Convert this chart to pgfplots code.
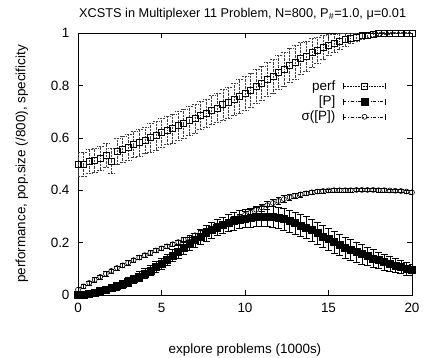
\documentclass[border=0pt]{standalone}
\usepackage{fontspec}
\setmainfont{Liberation Sans}
\usepackage{pgfplots}
\usepackage{pgfplotstable}
\pgfplotsset{compat=1.18}

\pgfplotstableread{
x p pe b be s se
0 0.500 0.045 0.000 0.004 0.020 0.008
0.33 0.498 0.045 0.002 0.006 0.033 0.008
0.67 0.510 0.045 0.006 0.008 0.046 0.008
1 0.515 0.045 0.010 0.009 0.058 0.008
1.33 0.522 0.045 0.015 0.011 0.069 0.008
1.67 0.534 0.045 0.021 0.012 0.081 0.008
2 0.512 0.048 0.027 0.013 0.092 0.008
2.33 0.548 0.05 0.034 0.014 0.103 0.008
2.67 0.556 0.05 0.042 0.015 0.113 0.008
3 0.565 0.05 0.050 0.016 0.123 0.008
3.33 0.574 0.05 0.060 0.017 0.133 0.008
3.67 0.581 0.05 0.071 0.018 0.143 0.008
4 0.590 0.05 0.082 0.019 0.152 0.008
4.33 0.601 0.055 0.094 0.020 0.161 0.008
4.67 0.609 0.055 0.107 0.021 0.170 0.008
5 0.620 0.055 0.120 0.022 0.178 0.008
5.33 0.629 0.055 0.135 0.022 0.186 0.008
5.67 0.636 0.055 0.150 0.023 0.194 0.008
6 0.646 0.055 0.165 0.024 0.202 0.008
6.33 0.654 0.055 0.180 0.025 0.211 0.009
6.67 0.666 0.055 0.195 0.026 0.219 0.009
7 0.674 0.055 0.210 0.027 0.228 0.009
7.33 0.686 0.055 0.223 0.028 0.237 0.009
7.67 0.694 0.055 0.236 0.029 0.245 0.010
8 0.706 0.055 0.248 0.030 0.254 0.010
8.33 0.714 0.055 0.258 0.030 0.263 0.010
8.67 0.726 0.058 0.267 0.031 0.271 0.011
9 0.734 0.06 0.275 0.032 0.280 0.011
9.33 0.748 0.062 0.282 0.033 0.289 0.012
9.67 0.757 0.065 0.288 0.034 0.297 0.012
10 0.771 0.065 0.292 0.035 0.306 0.013
10.33 0.782 0.065 0.296 0.036 0.315 0.013
10.67 0.798 0.065 0.298 0.037 0.325 0.014
11 0.809 0.065 0.300 0.038 0.334 0.014
11.33 0.824 0.065 0.300 0.039 0.343 0.014
11.67 0.836 0.065 0.298 0.039 0.351 0.014
12 0.851 0.065 0.295 0.040 0.359 0.014
12.33 0.862 0.065 0.289 0.041 0.366 0.013
12.67 0.878 0.065 0.283 0.042 0.373 0.012
13 0.889 0.064 0.275 0.042 0.379 0.011
13.33 0.903 0.062 0.266 0.042 0.384 0.010
13.67 0.912 0.058 0.257 0.042 0.388 0.009
14 0.926 0.055 0.247 0.042 0.392 0.008
14.33 0.934 0.05 0.236 0.042 0.395 0.007
14.67 0.946 0.045 0.224 0.042 0.397 0.007
15 0.954 0.04 0.213 0.042 0.399 0.006
15.33 0.962 0.035 0.202 0.042 0.400 0.006
15.67 0.969 0.03 0.192 0.041 0.400 0.006
16 0.975 0.025 0.182 0.040 0.400 0.006
16.33 0.980 0.02 0.173 0.039 0.400 0.006
16.67 0.985 0.015 0.164 0.038 0.401 0.006
17 0.990 0.012 0.156 0.037 0.401 0.006
17.33 0.992 0.009 0.148 0.035 0.401 0.006
17.67 0.995 0.007 0.140 0.034 0.401 0.006
18 0.997 0.005 0.133 0.032 0.400 0.006
18.33 0.998 0.004 0.126 0.030 0.400 0.006
18.67 0.999 0.003 0.119 0.029 0.399 0.006
19 1.000 0.002 0.113 0.027 0.398 0.006
19.33 1.000 0.002 0.107 0.025 0.397 0.006
19.67 1.000 0.002 0.101 0.024 0.395 0.006
20 1.000 0.002 0.096 0.022 0.392 0.006
}\datatable

\begin{document}
\begin{tikzpicture}
\useasboundingbox (-78bp,-63bp) rectangle (349bp,295bp);
\begin{axis}[
  at={(0,0)}, anchor=south west,
  scale only axis, width=334bp, height=262bp,
  xmin=0, xmax=20, ymin=0, ymax=1,
  xtick={0,5,10,15,20},
  ytick={0,0.2,0.4,0.6,0.8,1},
  yticklabels={0,0.2,0.4,0.6,0.8,1},
  tick align=inside, major tick length=5bp,
  axis line style={black, line width=0.6pt},
  tick style={black, line width=0.6pt},
  /pgf/number format/assume math mode=true,
  ticklabel style={font=\fontsize{13.5}{15}\selectfont},
  xticklabel style={yshift=-5bp},
  yticklabel style={xshift=-5bp},
  title={XCSTS in Multiplexer 11 Problem, N=800, P\textsubscript{\#}=1.0, μ=0.01},
  title style={at={(axis description cs:0.493,1.038)}, anchor=base, font=\fontsize{12.8}{15}\selectfont},
  xlabel={explore problems (1000s)},
  xlabel style={at={(axis description cs:0.5,-0.225)}, anchor=base, font=\fontsize{13.5}{15}\selectfont},
  ylabel={performance, pop.size (/800), specificity},
  ylabel style={at={(axis description cs:-0.1677,0.5)}, anchor=center, font=\fontsize{13.5}{15}\selectfont},
  clip marker paths=false,
  legend style={at={(axis description cs:0.925,0.83)}, anchor=north east, draw=none, fill=none,
    font=\fontsize{13.5}{15}\selectfont, row sep=0bp, column sep=6bp, inner sep=1bp},
  legend cell align=right,
  legend plot pos=right,
  legend image code/.code={
    \draw[#1,mark=none,line width=0.5pt] (0bp,0bp) -- (42bp,0bp);
    \draw[#1,mark=none,solid,line width=0.5pt] (0bp,-3bp) -- (0bp,3bp) (42bp,-3bp) -- (42bp,3bp);
    \draw[#1,solid] plot coordinates {(21bp,0bp)};
  },
]
% perf
\addplot[only marks, black, densely dotted, mark=square, mark size=3bp, line width=0.6pt, mark options={solid},
  error bars/.cd, y dir=both, y explicit,
  error bar style={black!75, densely dotted, line width=0.5pt},
  error mark options={black!75, mark size=3bp, densely dotted, line width=0.5pt, rotate=90}]
  table[x=x, y=p, y error=pe] {\datatable};
\addlegendentry{perf}
% [P]
\addplot[only marks, black, dashdotted, mark=square*, mark size=3.5bp, line width=0.6pt, mark options={solid},
  error bars/.cd, y dir=both, y explicit,
  error bar style={black, solid, line width=0.5pt},
  error mark options={black, solid, mark size=3.5bp, line width=0.5pt, rotate=90}]
  table[x=x, y=b, y error=be] {\datatable};
\addlegendentry{\relax[P]}
% sigma([P])
\addplot[only marks, black, dashdotted, mark=o, mark size=2.5bp, line width=0.6pt, mark options={solid},
  error bars/.cd, y dir=both, y explicit,
  error bar style={black, solid, line width=0.5pt},
  error mark options={black, solid, mark size=2.8bp, line width=0.5pt, rotate=90}]
  table[x=x, y=s, y error=se] {\datatable};
\addlegendentry{σ([P])}
\end{axis}
\end{tikzpicture}
\end{document}
